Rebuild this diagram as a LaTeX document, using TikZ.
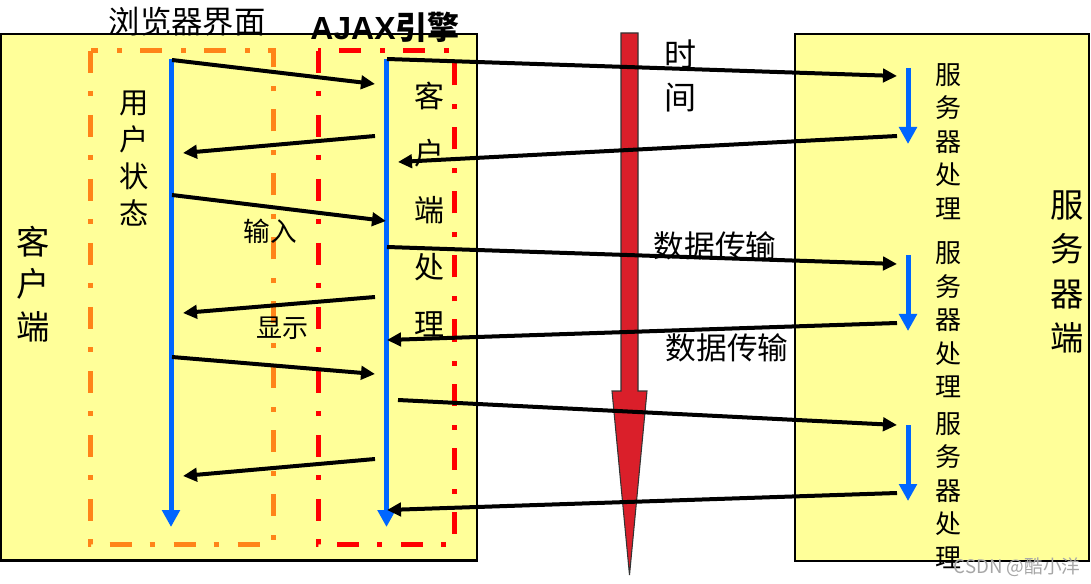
\documentclass[tikz,border=0pt]{standalone}
\usepackage{fontspec}
\newfontfamily\cjk{Noto Sans CJK SC}
\newfontfamily\arialfont{Liberation Sans}
\usetikzlibrary{arrows.meta}
\definecolor{boxyellow}{HTML}{FFFF99}
\definecolor{frameorange}{HTML}{FF8418}
\definecolor{framered}{HTML}{FF0000}
\definecolor{lineblue}{HTML}{0066FF}
\definecolor{timered}{HTML}{DA1F2A}

\begin{document}
\begin{tikzpicture}[x=0.75pt,y=-0.75pt,
    box/.style={draw=black, line width=1.9pt, fill=boxyellow},
    frame/.style={line width=3.75pt, dash pattern=on 16.5pt off 13.5pt on 3.75pt off 14.25pt},
    timeline/.style={draw=lineblue, line width=3.75pt, -{Triangle[length=12.75pt,width=13pt]}},
    msg/.style={draw=black, line width=3pt, -{Triangle[length=10.5pt,width=10pt]}},
    lbl/.style={inner sep=0pt, align=center}]
    \useasboundingbox (0,0) rectangle (1091,584);

    % client and server boxes
    \draw[box] (1,34) rectangle (477,560.5);
    \draw[box] (795,34) rectangle (1089,561);
    \draw[frame, frameorange] (90.5,51) rectangle (273,544);
    \draw[frame, framered] (318,51) rectangle (454.5,544);

    % labels
    \node[lbl, font={\cjk\fontsize{23.5pt}{28pt}\selectfont}] (browser) at (187,22) {浏览器界面};
    \node[lbl, font={\fontsize{24pt}{28pt}\selectfont}] (engine) at (385,27) {{\arialfont\bfseries AJAX}{\cjk\bfseries 引擎}};
    \node[lbl, font={\cjk\fontsize{22pt}{27.75pt}\selectfont}] (state) at (134,159) {用\\户\\状\\态};
    \node[lbl, font={\cjk\fontsize{22.5pt}{42.75pt}\selectfont}] (clientproc) at (429,209) {客\\户\\端\\处\\理};
    \node[lbl, font={\cjk\fontsize{25pt}{32pt}\selectfont}] (client) at (33,284) {客\\户\\端};
    \node[lbl, font={\cjk\fontsize{20pt}{24pt}\selectfont}] (input) at (270,231) {输入};
    \node[lbl, font={\cjk\fontsize{19.5pt}{24pt}\selectfont}] (show) at (282,328) {显示};
    \node[lbl, font={\cjk\fontsize{24pt}{32pt}\selectfont}] (time) at (680,76) {时\\间};
    \node[lbl, font={\cjk\fontsize{23pt}{28pt}\selectfont}] (data1) at (715,246) {数据传输};
    \node[lbl, font={\cjk\fontsize{23pt}{28pt}\selectfont}] (data2) at (727,348) {数据传输};
    \foreach \n/\y in {proc1/141.5, proc2/320, proc3/490.5}
        {\node[lbl, font={\cjk\fontsize{19.5pt}{25.1pt}\selectfont}] (\n) at (948,\y) {服\\务\\器\\处\\理};}
    \node[lbl, font={\cjk\fontsize{25pt}{33.4pt}\selectfont}] (server) at (1067,272) {服\\务\\器\\端};

    % time arrow
    \filldraw[fill=timered, draw=black!80, line width=0.8pt] (621,33) -- (638,33) -- (638,391) -- (647,391)
        -- (629.5,575) -- (612,391) -- (621,391) -- cycle;

    % timelines
    \coordinate (uiTop) at (171,59); \coordinate (uiEnd) at (171,527);
    \coordinate (ajTop) at (386.5,59); \coordinate (ajEnd) at (386.5,527);
    \coordinate (svTop1) at (908,68); \coordinate (svEnd1) at (908,144);
    \coordinate (svTop2) at (908,255); \coordinate (svEnd2) at (908,331);
    \coordinate (svTop3) at (908,425); \coordinate (svEnd3) at (908,501);
    \foreach \a/\b in {uiTop/uiEnd, ajTop/ajEnd, svTop1/svEnd1, svTop2/svEnd2, svTop3/svEnd3}
        {\draw[timeline] (\a) -- (\b);}

    % messages
    \coordinate (ui1) at (172,60); \coordinate (aj1) at (375,84);
    \coordinate (aj2) at (375,136); \coordinate (ui2) at (183,153);
    \coordinate (ui3) at (172,195); \coordinate (aj3) at (386,221);
    \coordinate (aj4) at (375,297); \coordinate (ui4) at (183,313);
    \coordinate (ui5) at (172,357); \coordinate (aj5) at (375,374);
    \coordinate (aj6) at (375,459); \coordinate (ui6) at (183,476);
    \coordinate (aj7) at (387,59); \coordinate (sv1) at (897,76);
    \coordinate (sv2) at (897,136); \coordinate (aj8) at (398,162);
    \coordinate (aj9) at (387,247); \coordinate (sv3) at (897,264);
    \coordinate (sv4) at (897,323); \coordinate (aj10) at (387,340);
    \coordinate (aj11) at (398,400); \coordinate (sv5) at (897,425);
    \coordinate (sv6) at (897,493); \coordinate (aj12) at (387,510);
    \foreach \a/\b in {ui1/aj1, aj2/ui2, ui3/aj3, aj4/ui4, ui5/aj5, aj6/ui6,
        aj7/sv1, sv2/aj8, aj9/sv3, sv4/aj10, aj11/sv5, sv6/aj12}
        {\draw[msg] (\a) -- (\b);}

    \node[lbl, text=black!35, font={\cjk\fontsize{14pt}{16pt}\selectfont}] (mark) at (1017,567) {CSDN @酷小洋};
\end{tikzpicture}
\end{document}
